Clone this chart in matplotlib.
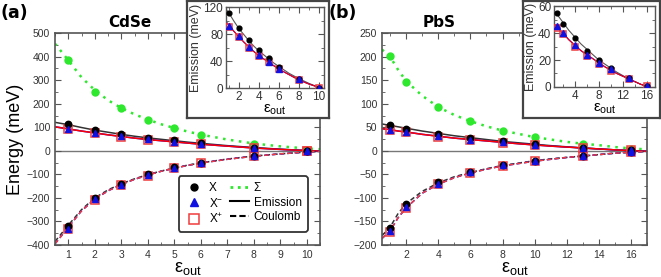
import numpy as np
import matplotlib.pyplot as plt
from matplotlib.ticker import MultipleLocator

plt.rcParams['font.family'] = ['Liberation Sans', 'DejaVu Sans']
plt.rcParams['mathtext.default'] = 'regular'

# ---- data ----
# (a) CdSe
eps_a = [1, 2, 3, 4, 5, 6, 8, 10]
emi_x_a = [112, 89, 71, 56, 44, 32, 14, 0]
emi_xm_a = [92, 77, 61, 49, 39, 29, 13, 0]
emi_xp_a = [91, 76, 60, 48, 38, 28, 12, 0]
sig_a = [386, 251, 180, 132, 95, 66, 29, 5]
cou_x_a = [-320, -200, -140, -100, -70, -50, -22, 0]
cou_xm_a = [-330, -205, -145, -103, -71, -50, -22, 0]
cou_xp_a = [-333, -208, -147, -105, -73, -51, -23, 0]

# fit curves (a)
fit_eps_a = [0.5, 1, 1.5, 2, 2.5, 3, 3.5, 4, 4.5, 5, 5.5, 6, 7, 8, 9, 10, 10.5]
fit_sig_a = [455, 385, 312, 258, 215, 182, 155, 133, 113, 97, 82, 69, 48, 31, 19, 10, 7]
fit_emx_a = [121, 111, 99, 88, 79, 70, 62, 55, 49, 43, 37, 32, 22, 14, 7, 1, -1]
fit_emp_a = [102, 93, 84, 76, 68, 61, 54, 48, 43, 38, 33, 28, 20, 12, 6, 1, -1]
fit_cox_a = [-385, -316, -250, -200, -166, -140, -119, -101, -86, -73, -61, -51, -35, -22, -13, -5, -2]
fit_cop_a = [-395, -325, -255, -205, -170, -143, -121, -103, -87, -74, -62, -52, -36, -23, -13, -5, -2]

# (b) PbS
eps_b = [1, 2, 4, 6, 8, 10, 13, 16]
emi_x_b = [55, 47, 36, 27, 20, 14, 7, 1]
emi_xm_b = [45, 40, 31, 24, 18, 13, 7, 1]
emi_xp_b = [44, 39, 30, 23, 17, 12, 6, 1]
sig_b = [202, 146, 93, 63, 43, 30, 14, 3]
cou_x_b = [-164, -113, -67, -45, -30, -21, -11, -2]
cou_xm_b = [-170, -120, -70, -46, -31, -21, -11, -2]
cou_xp_b = [-172, -122, -71, -47, -32, -22, -11, -2]

fit_eps_b = [0.5, 1, 1.5, 2, 3, 4, 5, 6, 7, 8, 9, 10, 11, 12, 13, 14, 15, 16, 17]
fit_sig_b = [215, 200, 172, 148, 117, 93, 76, 63, 52, 43, 36, 29, 24, 19, 15, 12, 8, 5, 3]
fit_emx_b = [57, 54, 51, 48, 42, 37, 32, 28, 24, 20, 17, 14, 11, 8.5, 6, 4, 2, 0.5, -1]
fit_emp_b = [47, 45, 42, 40, 35, 31, 27, 24, 21, 18, 15, 12.5, 10, 8, 6, 4, 2, 0.5, -1]
fit_cox_b = [-180, -162, -133, -112, -86, -68, -55, -46, -38, -31, -26, -21, -17, -14, -11, -8, -5, -3, -1]
fit_cop_b = [-186, -170, -142, -121, -90, -71, -57, -47, -39, -32, -27, -22, -18, -14, -11, -8, -5, -3, -1]

GREEN = '#2ee82e'
RED = '#f03c3c'
SPINE = '#555555'
TXT = '#333333'


def style_axes(ax, lw=1.2):
    for s in ax.spines.values():
        s.set_color(SPINE)
        s.set_linewidth(lw)
    ax.tick_params(which='both', direction='in', top=True, right=True,
                   colors=SPINE, labelcolor=TXT, labelsize=7.5)
    ax.tick_params(which='major', length=4)
    ax.tick_params(which='minor', length=2)


def points(ax, x, yx, ym, yp, ms=1.0):
    ax.plot(x, yp, 's', ms=6 * ms, mfc='none', mec=RED, mew=1.1, zorder=4)
    ax.plot(x, yx, 'o', ms=4.6 * ms, color='black', zorder=5)
    ax.plot(x, ym, '^', ms=5 * ms, color='#1010e0', zorder=6)


def main_panel(ax, d):
    ax.axhline(0, color='#777777', lw=1.0, zorder=1)
    ax.plot(d['fe'], d['fs'], ':', color=GREEN, lw=1.8, dashes=(1, 2.2), zorder=2)
    ax.plot(d['e'], d['s'], 'o', color=GREEN, ms=5, zorder=3)
    ax.plot(d['fe'], d['fex'], '-', color='#333333', lw=1.1, zorder=2)
    ax.plot(d['fe'], d['fep'], '-', color='blue', lw=1.1, zorder=2)
    ax.plot(d['fe'], d['fep'], '-', color='red', lw=1.1, zorder=2)
    ax.plot(d['fe'], d['fcx'], '--', color='#333333', lw=1.1, dashes=(3, 2), zorder=2)
    ax.plot(d['fe'], d['fcp'], '--', color='blue', lw=1.1, dashes=(3, 2), zorder=2)
    ax.plot(d['fe'], d['fcp'], '--', color=RED, lw=1.1, dashes=(3, 2), zorder=2)
    points(ax, d['e'], d['ex'], d['em'], d['ep'])
    points(ax, d['e'], d['cx'], d['cm'], d['cp'])
    ax.set_xlabel('ε$_{out}$', fontsize=13, labelpad=0)
    style_axes(ax)


def inset(ax, d):
    ax.plot(d['fe'], d['fex'], '-', color='#555555', lw=0.8)
    ax.plot(d['fe'], d['fep'], '-', color='blue', lw=0.8)
    ax.plot(d['fe'], d['fep'], '-', color='red', lw=0.8)
    points(ax, d['e'], d['ex'], d['em'], d['ep'], ms=0.75)
    ax.set_xlabel('ε$_{out}$', fontsize=11, labelpad=0)
    ax.set_ylabel('Emission (meV)', fontsize=9, labelpad=1, color=TXT)
    style_axes(ax, lw=1.0)
    ax.tick_params(labelsize=8.5, pad=2)


da = dict(e=eps_a, ex=emi_x_a, em=emi_xm_a, ep=emi_xp_a, s=sig_a,
          cx=cou_x_a, cm=cou_xm_a, cp=cou_xp_a, fe=fit_eps_a, fs=fit_sig_a,
          fex=fit_emx_a, fep=fit_emp_a, fcx=fit_cox_a, fcp=fit_cop_a)
db = dict(e=eps_b, ex=emi_x_b, em=emi_xm_b, ep=emi_xp_b, s=sig_b,
          cx=cou_x_b, cm=cou_xm_b, cp=cou_xp_b, fe=fit_eps_b, fs=fit_sig_b,
          fex=fit_emx_b, fep=fit_emp_b, fcx=fit_cox_b, fcp=fit_cop_b)

fig = plt.figure(figsize=(6.61, 2.77), dpi=100)

# main panels
axa = fig.add_axes([0.0832, 0.1155, 0.401, 0.765])
main_panel(axa, da)
axa.set_xlim(0.5, 10.5)
axa.set_ylim(-400, 500)
axa.xaxis.set_major_locator(MultipleLocator(1))
axa.xaxis.set_minor_locator(MultipleLocator(0.5))
axa.yaxis.set_major_locator(MultipleLocator(100))
axa.yaxis.set_minor_locator(MultipleLocator(50))
axa.set_ylabel('Energy (meV)', fontsize=13, labelpad=2)

axb = fig.add_axes([0.578, 0.1155, 0.401, 0.765])
main_panel(axb, db)
axb.set_xlim(0.5, 17)
axb.set_ylim(-200, 250)
axb.xaxis.set_major_locator(MultipleLocator(2))
axb.xaxis.set_minor_locator(MultipleLocator(1))
axb.yaxis.set_major_locator(MultipleLocator(50))
axb.yaxis.set_minor_locator(MultipleLocator(25))

bold = dict(fontweight='bold', family='DejaVu Sans')
fig.text(0.0, 0.985, '(a)', fontsize=12.5, va='top', **bold)
fig.text(0.197, 0.945, 'CdSe', fontsize=11, ha='center', va='top', **bold)
fig.text(0.497, 0.985, '(b)', fontsize=12.5, va='top', **bold)
fig.text(0.665, 0.945, 'PbS', fontsize=11, ha='center', va='top', **bold)

# legend in (a)
h_x, = axa.plot([], [], 'o', ms=5, color='black')
h_m, = axa.plot([], [], '^', ms=6, color='#1010e0')
h_p, = axa.plot([], [], 's', ms=7, mfc='none', mec=RED, mew=1.1)
h_s, = axa.plot([], [], ':', color=GREEN, lw=2)
h_e, = axa.plot([], [], '-', color='black', lw=1.5)
h_c, = axa.plot([], [], '--', color='black', lw=1.5, dashes=(3, 1.5))
leg = axa.legend([h_x, h_m, h_p, h_s, h_e, h_c],
                 ['X', 'X$^{-}$', 'X$^{+}$', 'Σ', 'Emission', 'Coulomb'],
                 ncol=2, loc='lower right', bbox_to_anchor=(0.975, 0.035),
                 fontsize=8.5, handlelength=1.6, handletextpad=0.4,
                 columnspacing=0.6, labelspacing=0.2, borderpad=0.5,
                 fancybox=True, framealpha=1, edgecolor='#333333')
leg.get_frame().set_linewidth(1.3)
leg.set_zorder(10)

# inset frames
for rect in ([0.283, 0.574, 0.214, 0.424], [0.791, 0.574, 0.207, 0.424]):
    fr = fig.add_axes(rect, zorder=5)
    fr.set_xticks([])
    fr.set_yticks([])
    fr.set_facecolor('white')
    for s in fr.spines.values():
        s.set_color('#444444')
        s.set_linewidth(1.6)

ia = fig.add_axes([0.342, 0.682, 0.148, 0.292], zorder=6)
inset(ia, da)
ia.set_xlim(0.7, 10.5)
ia.set_ylim(0, 120)
ia.xaxis.set_major_locator(MultipleLocator(2))
ia.xaxis.set_minor_locator(MultipleLocator(1))
ia.yaxis.set_major_locator(MultipleLocator(40))
ia.yaxis.set_minor_locator(MultipleLocator(20))

ib = fig.add_axes([0.838, 0.686, 0.153, 0.292], zorder=6)
inset(ib, db)
ib.set_xlim(0.5, 17.4)
ib.set_ylim(0, 60)
ib.xaxis.set_major_locator(MultipleLocator(4))
ib.xaxis.set_minor_locator(MultipleLocator(2))
ib.yaxis.set_major_locator(MultipleLocator(20))
ib.yaxis.set_minor_locator(MultipleLocator(10))

fig.savefig('out.png', dpi=100)
